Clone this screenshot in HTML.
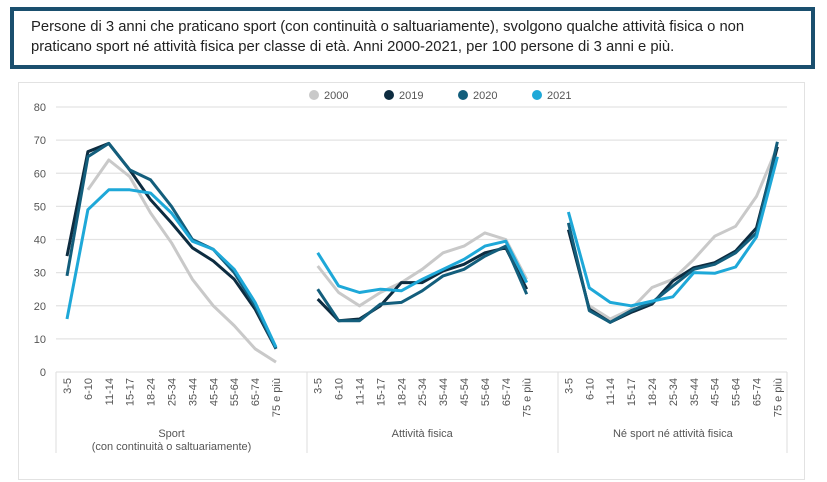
<!DOCTYPE html>
<html><head><meta charset="utf-8">
<style>
body{margin:0;width:827px;height:482px;background:#fff;font-family:"Liberation Sans",sans-serif;overflow:hidden;position:relative}
#title{position:absolute;left:10px;top:7px;border:4px solid #1a4f6e;background:#fff;font-size:14.8px;line-height:20px;color:#222;padding:6px 0 0 17px;box-sizing:content-box;width:780px;height:48px;white-space:nowrap}
#frame{position:absolute;left:18px;top:82px;width:785px;height:396px;border:1px solid #e2e2e2}
svg{position:absolute;left:0;top:0}
</style></head><body>
<div id="title">Persone di 3 anni che praticano sport (con continuità o saltuariamente), svolgono qualche attività fisica o non<br>praticano sport né attività fisica per classe di età. Anni 2000-2021, per 100 persone di 3 anni e più.</div>
<div id="frame"></div>
<svg id="chart" width="827" height="482"></svg>
<script>
const ageClasses=["3-5","6-10","11-14","15-17","18-24","25-34","35-44","45-54","55-64","65-74","75 e più"];
const groups=["Sport|(con continuità o saltuariamente)","Attività fisica","Né sport né attività fisica"];
const years=["2000","2019","2020","2021"];
const yTicks=[0,10,20,30,40,50,60,70,80];
const s2000=[[null,55,64,59,48,39,28,20,14,7,3],[32,24,20,24,27,31,36,38,42,40,28],[null,20,16,19,25.5,28,34,41,44,53,68]];
const s2019=[[35,66.5,69,61,52,45,37.5,33.5,28,19,7],[22,15.5,16,20,27,27,30.5,32.5,36,37.5,25],[43,19,15,18,20.5,27.5,31.5,33,36.5,43.5,68]];
const s2020=[[29,65,69,61,58,50,40,37,30,20,7],[25,15.5,15.5,20.5,21,24.5,29,31,35,38,23.5],[45,18.5,15,18.5,21,26,31,32.5,36,42,69.5]];
const s2021=[[16,49,55,55,54,48,39.5,37,31,21,7.5],[36,26,24,25,24.5,28,31,34,38,39.5,27],[48.3,25.4,21,20,21.4,22.7,30,29.8,31.7,40.8,65]];
const series=[s2000,s2019,s2020,s2021];
const colors=["#c9c9c9","#0d2c40","#135e7c","#1ea8d8"];
const NS="http://www.w3.org/2000/svg";
const svg=document.getElementById('chart');
function y(v){return 372-v*3.3125;}
function x(g,i){return 67+g*250.7+i*20.9;}
function mk(t,a){const e=document.createElementNS(NS,t);for(const k in a)e.setAttribute(k,a[k]);svg.appendChild(e);return e;}
yTicks.forEach(v=>{
  if(v>0){const l=mk('line',{x1:56,x2:787,y1:y(v),y2:y(v),stroke:'#e3e3e3','stroke-width':1.3});
  
  }
  const t=mk('text',{x:46,y:y(v)+4,'text-anchor':'end','font-size':11,fill:'#555'});t.textContent=v;
  
  
});
const bl=mk('line',{x1:56,x2:787,y1:372,y2:372,stroke:'#ddd','stroke-width':1});


[56,307,558,787].forEach(xx=>{const l=mk('line',{x1:xx,x2:xx,y1:372,y2:453,stroke:'#ddd','stroke-width':1});
  
  });
groups.forEach((gname,g)=>{
  ageClasses.forEach((a,i)=>{
    const t=mk('text',{transform:`translate(${x(g,i)+4},378) rotate(-90)`,'text-anchor':'end','font-size':11,fill:'#555'});
    t.textContent=a;
    
    
  });
  const cx=(x(g,0)+x(g,10))/2;
  gname.split('|').forEach((ln,k)=>{
    const t=mk('text',{x:cx,y:437+k*13,'text-anchor':'middle','font-size':11,fill:'#555'});
    t.textContent=ln;
    
    
  });
});
series.forEach((s,si)=>{
  s.forEach((arr,g)=>{
    const pts=[];arr.forEach((v,i)=>{if(v!==null)pts.push(x(g,i).toFixed(1)+','+y(v).toFixed(1));});
    const p=mk('polyline',{points:pts.join(' '),fill:'none',stroke:colors[si],'stroke-width':3,'stroke-linejoin':'round'});
    
    
  });
});
const lx=[314,389,463,537];
years.forEach((yr,i)=>{
  const c=mk('circle',{cx:lx[i],cy:95,r:5,fill:colors[i]});
  
  
  const t=mk('text',{x:lx[i]+10,y:99,'font-size':11,fill:'#555'});t.textContent=yr;
  
  
});
</script>
</body></html>
